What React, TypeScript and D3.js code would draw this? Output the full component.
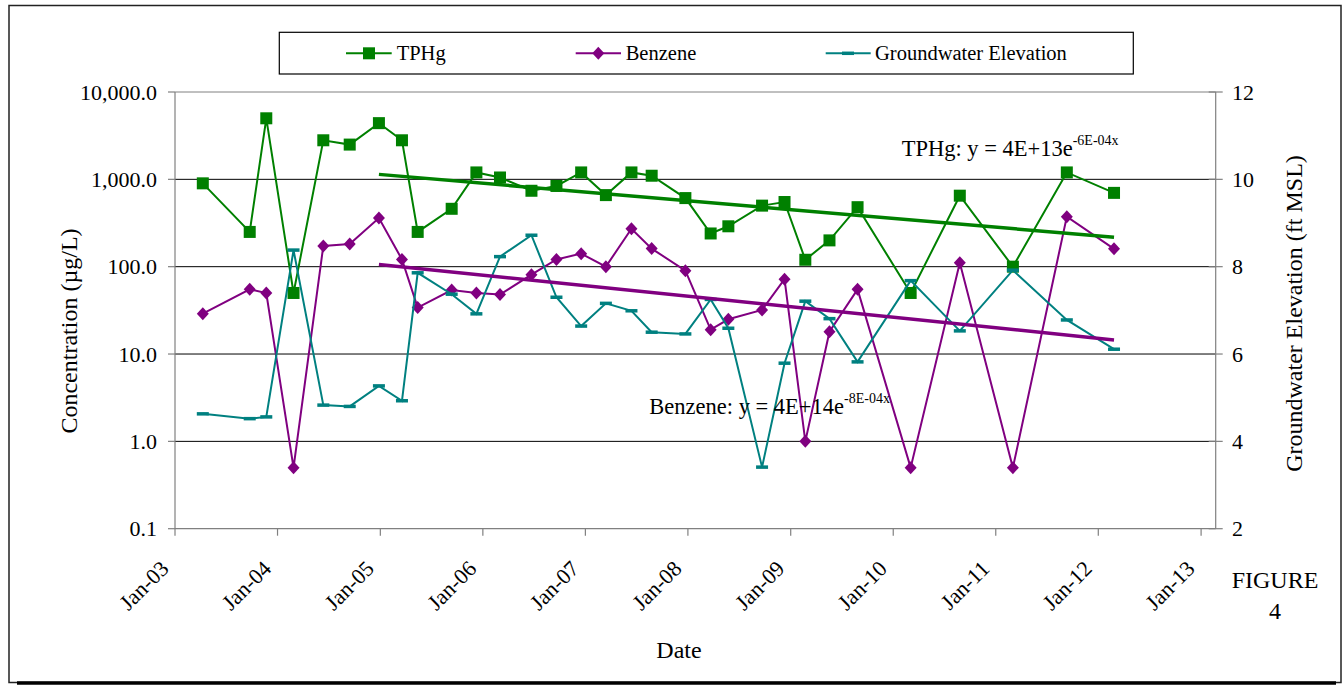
import React from 'react';
import * as d3 from 'd3';

// sample dates
const dates = [
  '2003-04-10', '2003-09-24', '2003-11-22', '2004-02-27', '2004-06-12', '2004-09-14',
  '2004-12-27', '2005-03-19', '2005-05-14', '2005-09-12', '2005-12-09', '2006-03-03',
  '2006-06-23', '2006-09-20', '2006-12-17', '2007-03-15', '2007-06-14', '2007-08-25',
  '2007-12-23', '2008-03-22', '2008-05-24', '2008-09-21', '2008-12-10', '2009-02-22',
  '2009-05-19', '2009-08-27', '2010-03-04', '2010-08-26', '2011-03-03', '2011-09-11',
  '2012-02-26',
];

// µg/L
const tphg = [
  900, 250, 5000, 50, 2800, 2500, 4400, 2800, 250, 460, 1200, 1050, 740, 840, 1200, 660,
  1200, 1100, 610, 240, 290, 500, 550, 120, 200, 480, 50, 650, 100, 1200, 700,
];
const benzene = [
  29, 55, 50, 0.5, 173, 182, 360, 121, 34, 54, 50, 48, 81, 121, 141, 100, 272, 161, 90,
  19, 25, 32, 72, 1.0, 18, 55, 0.5, 111, 0.5, 374, 160,
];
// ft MSL
const groundwater = [
  4.63, 4.52, 4.56, 8.38, 4.83, 4.8, 5.27, 4.93, 7.86, 7.37, 6.92, 8.23, 8.72, 7.3, 6.64,
  7.16, 6.99, 6.5, 6.46, 7.25, 6.59, 3.41, 5.79, 7.21, 6.81, 5.82, 7.68, 6.53, 7.92, 6.78,
  6.11,
];

// trendline end points
const trendDates = ['2004-12-27', '2012-02-26'];
const tphgTrend = [1140, 217];
const benzeneTrend = [106, 14.5];

const leftTicks = [0.1, 1, 10, 100, 1000, 10000];
const rightTicks = [2, 4, 6, 8, 10, 12];

const GREEN = '#008000';
const PURPLE = '#800080';
const TEAL = '#008080';
const FONT = "'Liberation Serif', 'Times New Roman', serif";

const parse = d3.utcParse('%Y-%m-%d');

export default function App() {
  const W = 1344;
  const H = 685;
  const left = 175;
  const right = 1215.7;
  const top = 92;
  const bottom = 528.7;

  const x = d3
    .scaleUtc()
    .domain([parse('2003-01-01') as Date, parse('2013-02-22') as Date])
    .range([left, right]);
  const y = d3.scaleLog().domain([0.1, 10000]).range([bottom, top]);
  const y2 = d3.scaleLinear().domain([2, 12]).range([bottom, top]);

  const xDates = dates.map(d => parse(d) as Date);
  const tDates = trendDates.map(d => parse(d) as Date);
  const yearTicks = d3.utcYear.range(parse('2003-01-01') as Date, parse('2013-01-02') as Date);
  const fmtX = d3.utcFormat('%b-%y');
  const fmtY = d3.format(',.1f');

  const line = d3
    .line<number>()
    .x((_, i) => x(xDates[i]))
    .y(v => y(v));
  const line2 = d3
    .line<number>()
    .x((_, i) => x(xDates[i]))
    .y(v => y2(v));
  const trendLine = d3
    .line<number>()
    .x((_, i) => x(tDates[i]))
    .y(v => y(v));

  const square = (cx: number, cy: number, key: string | number) => (
    <rect key={key} x={cx - 6} y={cy - 6} width={12} height={12} fill={GREEN} />
  );
  const diamond = (cx: number, cy: number, key: string | number) => (
    <path
      key={key}
      d={`M${cx},${cy - 6.5}L${cx + 6},${cy}L${cx},${cy + 6.5}L${cx - 6},${cy}Z`}
      fill={PURPLE}
    />
  );
  const dash = (cx: number, cy: number, key: string | number) => (
    <rect key={key} x={cx - 6} y={cy - 1.75} width={12} height={3.5} fill={TEAL} />
  );

  return (
    <svg
      width={W}
      height={H}
      style={{ position: 'absolute', left: 0, top: 0, display: 'block', background: '#fff', fontFamily: FONT }}
    >
      {/* outer frame */}
      <rect x={9} y={5.5} width={1332} height={677} fill="#fff" stroke="#222" strokeWidth={1.5} />
      <line x1={17} x2={1336} y1={683} y2={683} stroke="#000" strokeWidth={3.5} />

      {/* gridlines */}
      {leftTicks.slice(1, -1).map(t => (
        <line key={t} x1={left} x2={right} y1={y(t)} y2={y(t)} stroke="#000" strokeWidth={1} />
      ))}
      <line x1={left} x2={right} y1={top} y2={top} stroke="#808080" strokeWidth={1} />

      {/* axes */}
      <line x1={left} x2={left} y1={top} y2={bottom} stroke="#808080" strokeWidth={1.2} />
      <line x1={right} x2={right} y1={top} y2={bottom} stroke="#808080" strokeWidth={1.2} />
      <line x1={left} x2={right} y1={bottom} y2={bottom} stroke="#808080" strokeWidth={1.2} />
      {leftTicks.map(t => (
        <g key={t}>
          <line x1={left - 7} x2={left} y1={y(t)} y2={y(t)} stroke="#808080" strokeWidth={1.2} />
          <text x={157} y={y(t)} dy="0.35em" textAnchor="end" fontSize={22} fill="#000">
            {fmtY(t)}
          </text>
        </g>
      ))}
      {rightTicks.map(t => (
        <g key={t}>
          <line x1={right - 7} x2={right + 7} y1={y2(t)} y2={y2(t)} stroke="#808080" strokeWidth={1.2} />
          <text x={1232} y={y2(t)} dy="0.35em" textAnchor="start" fontSize={22} fill="#000">
            {t}
          </text>
        </g>
      ))}
      {yearTicks.map(d => {
        const tx = x(d);
        return (
          <g key={+d}>
            <line x1={tx} x2={tx} y1={bottom} y2={bottom + 7} stroke="#808080" strokeWidth={1.2} />
            <text
              transform={`translate(${tx - 5},${570}) rotate(-45)`}
              textAnchor="end"
              fontSize={22}
              fill="#000"
            >
              {fmtX(d)}
            </text>
          </g>
        );
      })}

      {/* axis titles */}
      <text transform="translate(77,331) rotate(-90)" textAnchor="middle" fontSize={24} fill="#000">
        Concentration (µg/L)
      </text>
      <text transform="translate(1301.5,313.5) rotate(-90)" textAnchor="middle" fontSize={24} fill="#000">
        Groundwater Elevation (ft MSL)
      </text>
      <text x={679} y={658} textAnchor="middle" fontSize={24} fill="#000">
        Date
      </text>
      <text x={1275} y={588} textAnchor="middle" fontSize={24} fill="#000">
        FIGURE
      </text>
      <text x={1275} y={619} textAnchor="middle" fontSize={24} fill="#000">
        4
      </text>

      {/* series */}
      <path d={line(tphg) ?? ''} fill="none" stroke={GREEN} strokeWidth={2} />
      {tphg.map((v, i) => square(x(xDates[i]), y(v), i))}
      <path d={line(benzene) ?? ''} fill="none" stroke={PURPLE} strokeWidth={2} />
      {benzene.map((v, i) => diamond(x(xDates[i]), y(v), i))}
      <path d={line2(groundwater) ?? ''} fill="none" stroke={TEAL} strokeWidth={2} />
      {groundwater.map((v, i) => dash(x(xDates[i]), y2(v), i))}

      {/* trendlines */}
      <path d={trendLine(tphgTrend) ?? ''} fill="none" stroke={GREEN} strokeWidth={3.5} />
      <path d={trendLine(benzeneTrend) ?? ''} fill="none" stroke={PURPLE} strokeWidth={3.5} />

      {/* trend equations */}
      <text x={901.7} y={156} fontSize={22.5} fill="#000">
        TPHg: y = 4E+13e
        <tspan dy={-11} fontSize={14}>-6E-04x</tspan>
      </text>
      <text x={649.3} y={414.3} fontSize={22.5} fill="#000">
        Benzene: y = 4E+14e
        <tspan dy={-11} fontSize={14}>-8E-04x</tspan>
      </text>

      {/* legend */}
      <rect x={279.3} y={32.3} width={854} height={41.7} fill="#fff" stroke="#000" strokeWidth={1.2} />
      <line x1={346} x2={391.7} y1={53.3} y2={53.3} stroke={GREEN} strokeWidth={2} />
      {square(369, 53.3, 'lg1')}
      <text x={396.7} y={60} fontSize={20.5} fill="#000">TPHg</text>
      <line x1={575.7} x2={621} y1={53.3} y2={53.3} stroke={PURPLE} strokeWidth={2} />
      {diamond(598.3, 53.3, 'lg2')}
      <text x={625.7} y={60} fontSize={20.5} fill="#000">Benzene</text>
      <line x1={825.7} x2={870.7} y1={53.3} y2={53.3} stroke={TEAL} strokeWidth={2} />
      {dash(848, 53.3, 'lg3')}
      <text x={875} y={60} fontSize={20.5} fill="#000">Groundwater Elevation</text>
    </svg>
  );
}
